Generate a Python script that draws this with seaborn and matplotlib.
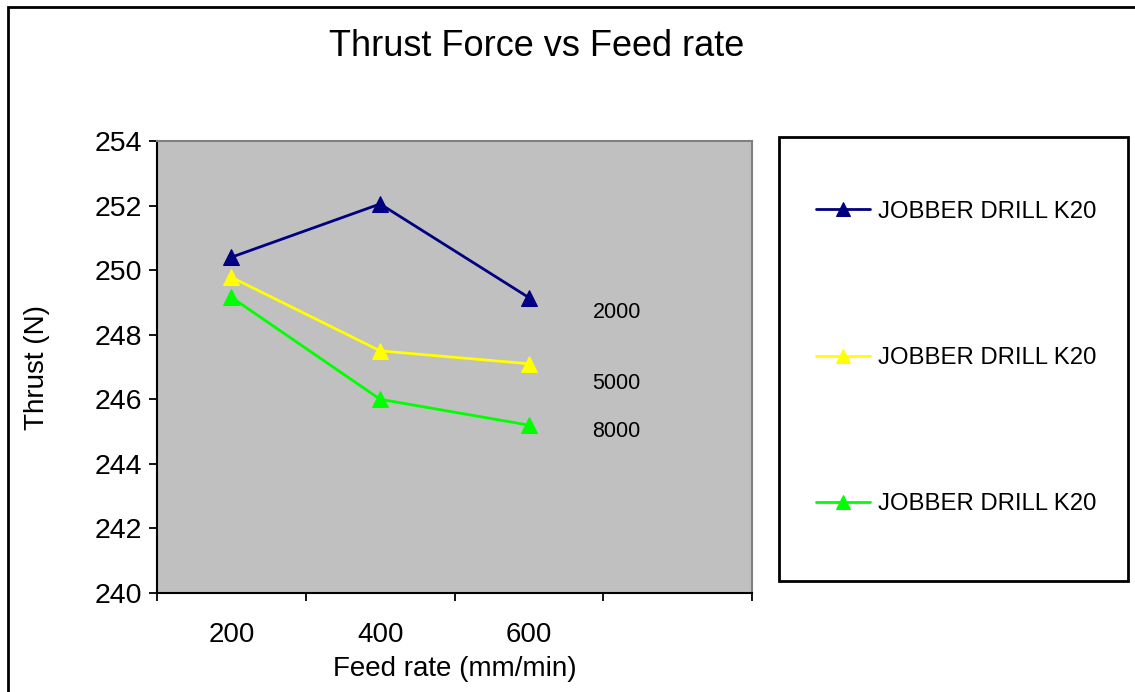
import matplotlib
matplotlib.use("Agg")
import matplotlib.pyplot as plt
import matplotlib.patches as mpatches
import seaborn as sns
import pandas as pd

# ---- data ----
feed_rates = ["200", "400", "600"]
thrust_2000 = [250.4, 252.05, 249.15]
thrust_5000 = [249.78, 247.5, 247.1]
thrust_8000 = [249.16, 246.0, 245.2]
speed_labels = ["2000", "5000", "8000"]
speed_label_y = [248.7, 246.5, 245.0]
series_names = ["JOBBER DRILL K20", "JOBBER DRILL K20", "JOBBER DRILL K20"]
colors = ["#000080", "#FFFF00", "#00FF00"]

sns.set_theme(style="white")
plt.rcParams["font.family"] = ["Liberation Sans", "DejaVu Sans"]
plt.rcParams["text.color"] = "black"
plt.rcParams["axes.labelcolor"] = "black"
plt.rcParams["xtick.color"] = "black"
plt.rcParams["ytick.color"] = "black"

fig = plt.figure(figsize=(11.35, 6.92), dpi=100)
ax = fig.add_axes([157/1135, 1-593/692, (752-157)/1135, (593-141)/692])
ax.set_facecolor("#C0C0C0")

handles = []
for vals, c, name in zip([thrust_2000, thrust_5000, thrust_8000], colors, series_names):
    df = pd.DataFrame({"feed": feed_rates, "thrust": vals})
    sns.lineplot(data=df, x="feed", y="thrust", ax=ax, color=c, marker="^",
                 markersize=11, markeredgecolor=c, linewidth=2.0, sort=False)
    handles.append(ax.lines[-1])

for lab, yv in zip(speed_labels, speed_label_y):
    ax.text(2.59, yv, lab, ha="center", va="center", fontsize=15.5, color="black")

ax.set_xlim(-0.5, 3.5)
ax.set_ylim(240, 254)
ax.set_yticks(range(240, 255, 2))
ax.set_xticks([-0.5, 0.5, 1.5, 2.5, 3.5], labels=[""] * 5)
ax.set_xticks([0, 1, 2], labels=feed_rates, minor=True)
ax.tick_params(axis="x", which="major", direction="out", length=5.5, width=1.3,
               color="black", bottom=True)
ax.tick_params(axis="x", which="minor", length=0, pad=21, labelsize=20, bottom=True,
               labelcolor="black")
ax.tick_params(axis="y", direction="out", length=5.5, width=1.3, color="black",
               left=True, pad=5, labelsize=20.5, labelcolor="black")

for s in ["left", "bottom"]:
    ax.spines[s].set_color("black")
    ax.spines[s].set_linewidth(1.5)
for s in ["top", "right"]:
    ax.spines[s].set_color("#808080")
    ax.spines[s].set_linewidth(1.5)

ax.set_xlabel("Feed rate (mm/min)", fontsize=20, labelpad=6, color="black")
ax.set_ylabel("Thrust (N)", fontsize=20, labelpad=32, color="black")
fig.text(537/1135, 1-46/692, "Thrust Force vs Feed rate", ha="center", va="center",
         fontsize=26, color="black")

# legend box
fig.patches.append(mpatches.Rectangle((779/1135, 1-581/692), (1128-779)/1135, (581-137)/692,
                                      transform=fig.transFigure, fill=True, facecolor="white",
                                      edgecolor="black", linewidth=2))
leg = fig.legend(handles, series_names, loc="center left",
                 bbox_to_anchor=(794/1135, 1-358/692), frameon=False,
                 fontsize=17.2, labelspacing=5.2, handlelength=2.3, handletextpad=0.3,
                 markerscale=0.9)
for t in leg.get_texts():
    t.set_color("black")

# outer border
fig.patches.append(mpatches.Rectangle((8/1135, -0.2), 2, 1.2 - 7/692,
                                      transform=fig.transFigure, fill=False,
                                      edgecolor="black", linewidth=2))

fig.savefig("out.png", dpi=100)
